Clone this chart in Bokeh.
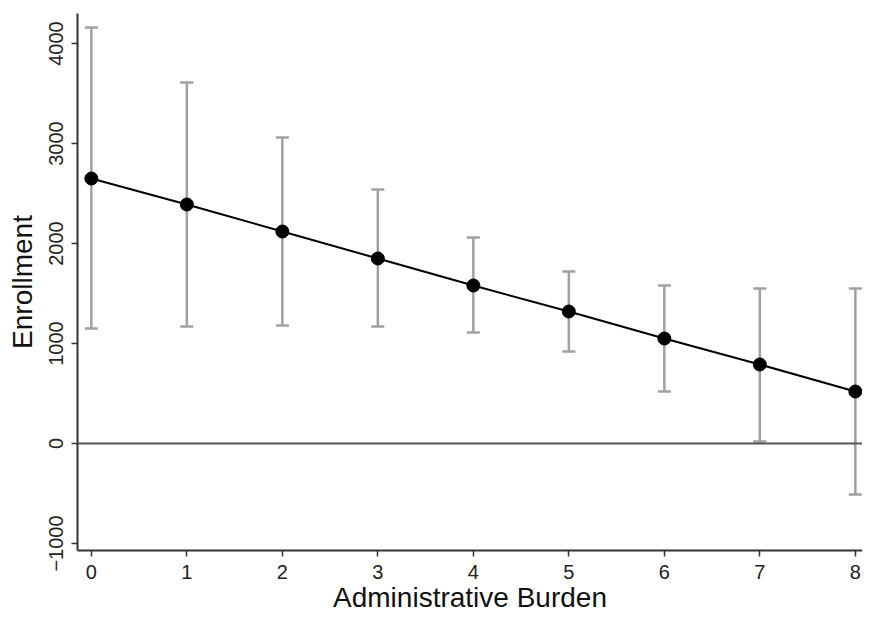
from bokeh.plotting import figure
from bokeh.models import ColumnDataSource, Whisker, TeeHead, Span, FixedTicker, Range1d
from bokeh.embed import file_html
from bokeh.resources import INLINE

burden = [0, 1, 2, 3, 4, 5, 6, 7, 8]
enrollment = [2650, 2390, 2120, 1850, 1580, 1320, 1050, 790, 520]
ci_upper = [4160, 3610, 3060, 2540, 2060, 1720, 1580, 1550, 1550]
ci_lower = [1150, 1170, 1180, 1170, 1110, 920, 520, 20, -510]
x_ticks = [0, 1, 2, 3, 4, 5, 6, 7, 8]
y_ticks = [-1000, 0, 1000, 2000, 3000, 4000]

src = ColumnDataSource(dict(x=burden, y=enrollment, upper=ci_upper, lower=ci_lower))

FONT = "Liberation Sans"
p = figure(width=862, height=616, output_backend="svg", toolbar_location=None,
           x_range=Range1d(-0.145, 8.075), y_range=Range1d(-1070, 4300),
           min_border_left=77, min_border_right=0, min_border_top=13, min_border_bottom=66)
p.outline_line_color = None
p.xgrid.grid_line_color = None
p.ygrid.grid_line_color = None
p.background_fill_color = "white"

whisk = Whisker(base="x", upper="upper", lower="lower", source=src,
                line_color="#a0a0a0", line_width=2.5, level="underlay",
                upper_head=TeeHead(size=13, line_color="#a0a0a0", line_width=2.5),
                lower_head=TeeHead(size=13, line_color="#a0a0a0", line_width=2.5))
p.add_layout(whisk)

p.add_layout(Span(location=0, dimension="width", line_color="#555555", line_width=2))

p.line("x", "y", source=src, line_color="black", line_width=2)
p.scatter("x", "y", source=src, size=13, fill_color="black", line_color="black")

for ax in (p.xaxis[0], p.yaxis[0]):
    ax.axis_line_color = "#333333"
    ax.axis_line_width = 2
    ax.major_tick_line_color = "#333333"
    ax.major_tick_line_width = 1.5
    ax.major_tick_out = 6
    ax.major_tick_in = 0
    ax.minor_tick_line_color = None
    ax.major_label_text_font = FONT
    ax.major_label_text_font_size = "20px"
    ax.major_label_text_color = "#222222"
    ax.axis_label_text_font = FONT
    ax.axis_label_text_font_size = "28px"
    ax.axis_label_text_font_style = "normal"
    ax.axis_label_text_color = "#111111"

p.xaxis.ticker = FixedTicker(ticks=x_ticks)
p.yaxis.ticker = FixedTicker(ticks=y_ticks)
p.xaxis.axis_label = "Administrative Burden"
p.yaxis.axis_label = "Enrollment"
p.yaxis.major_label_orientation = "vertical"
p.yaxis.major_label_standoff = 9
p.xaxis.major_label_standoff = 8
p.xaxis.axis_label_standoff = 0
p.yaxis.axis_label_standoff = 8

open("out.html", "w").write(file_html(p, INLINE))
